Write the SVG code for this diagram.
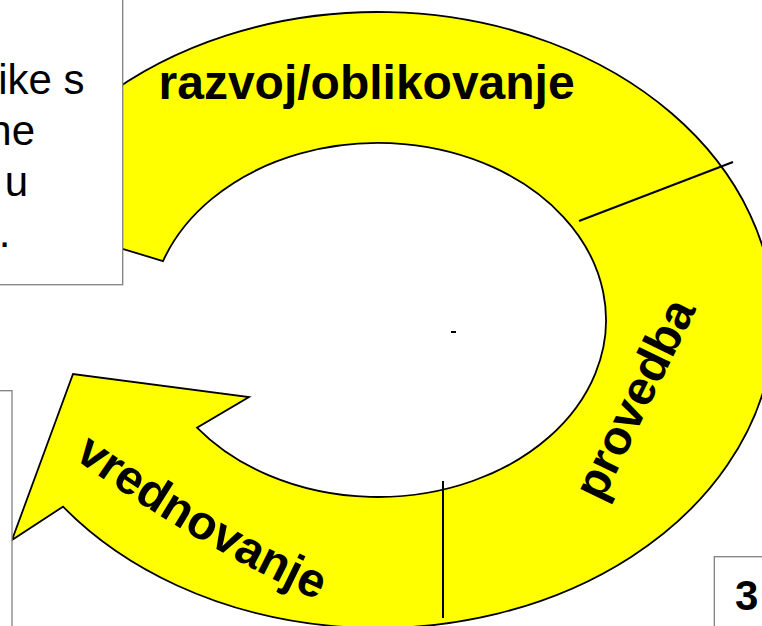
<svg xmlns="http://www.w3.org/2000/svg" width="762" height="626" viewBox="0 0 762 626">
<style>
.ring{fill:#ffff00;stroke:#000;stroke-width:1.8;stroke-linejoin:miter}
.box{fill:#fff;stroke:#808080;stroke-width:1.3}
.lbl{font-family:"Liberation Sans",Arial,sans-serif;font-weight:bold;font-size:48px;fill:#000}
.body{font-family:"Liberation Sans",Arial,sans-serif;font-size:42px;fill:#000}
.div{stroke:#000;stroke-width:2;fill:none}
</style>
<defs>
<path id="vpath" d="M43.8,435.6 A1416,1416 0 0 0 351.6,615.4"/>
</defs>
<rect width="762" height="626" fill="#fff"/>
<g id="cycle-arrow">
<path class="ring" d="M100,100.7
A396,308 0 1 1 63,506.65
L12,540 L73,374 L249,397 L197,427.6
A228,177 0 1 0 163,261.1
L100,242 Z"/>
</g>
<g id="connectors">
<line class="div" x1="579" y1="221" x2="733" y2="162"/>
<line class="div" x1="443" y1="481" x2="443" y2="618"/>
<line class="div" x1="451" y1="332" x2="456" y2="332" stroke-width="1.6"/>
</g>
<g id="label-razvoj">
<text class="lbl" x="158.5" y="99">razvoj/oblikovanje</text>
</g>
<g id="label-provedba">
<text class="lbl" text-anchor="middle" transform="translate(649,406) rotate(-64)">provedba</text>
</g>
<g id="label-vrednovanje">
<text class="lbl"><textPath href="#vpath" startOffset="50%" text-anchor="middle">vrednovanje</textPath></text>
</g>
<g id="box-topleft">
<rect class="box" x="-10" y="-10" width="132.7" height="294.7"/>
<text class="body" text-anchor="end" x="84.5" y="93.5">ike s</text>
<text class="body" text-anchor="end" x="35" y="144.7">ne</text>
<text class="body" text-anchor="end" x="28" y="195.8">u</text>
<text class="body" text-anchor="end" x="10.4" y="247">.</text>
</g>
<g id="box-left">
<rect class="box" x="-10" y="390.7" width="22" height="260"/>
</g>
<g id="box-3">
<rect class="box" x="714.3" y="556.7" width="80" height="100"/>
<text class="lbl" style="font-size:42px" x="735" y="610">3</text>
</g>
</svg>
